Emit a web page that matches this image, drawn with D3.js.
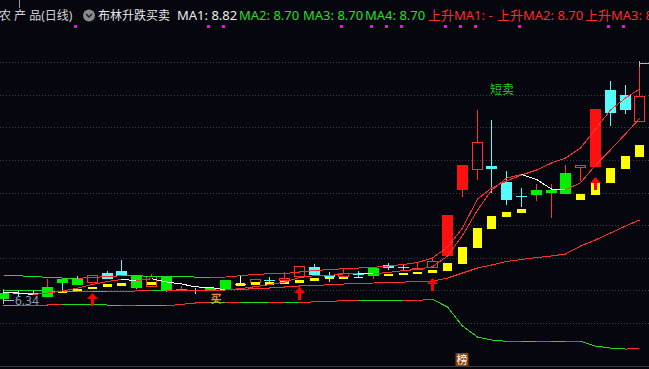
<!DOCTYPE html>
<html>
<head>
<meta charset="utf-8">
<script src="https://cdn.jsdelivr.net/npm/d3@7/dist/d3.min.js"></script>
<style>
  html, body { margin: 0; padding: 0; background: #06060f; overflow: hidden; }
  svg { display: block; }
  text { font-family: "Noto Sans", "Noto Sans CJK SC", sans-serif; }
</style>
</head>
<body>
<div id="chart"></div>
<script>
// 44 daily sessions, prices in yuan
var openP  = [6.45, 6.45, 6.45, 6.39, 6.66, 6.66, 6.60, 6.75, 6.78, 6.70, 6.54, 6.70, 6.48, 6.49, 6.52, 6.64, 6.58, 6.60, 6.64, 6.63, 6.69, 6.84, 6.72, 6.69, 6.73, 6.70, 6.87, 6.83, 6.79, 6.82, 7.00, 8.00, 8.30, 8.36, 8.12, 7.91, 7.92, 7.95, 7.94, 8.33, 8.34, 9.50, 9.43, 9.02];
var highP  = [6.49, 6.48, 6.48, 6.66, 6.66, 6.70, 6.72, 6.78, 6.94, 6.70, 6.73, 6.70, 6.55, 6.52, 6.52, 6.64, 6.70, 6.66, 6.69, 6.76, 6.85, 6.88, 6.76, 6.82, 6.78, 6.82, 6.90, 6.87, 6.91, 6.99, 7.62, 8.38, 9.20, 9.05, 8.28, 8.03, 8.09, 8.09, 8.37, 8.38, 9.22, 9.64, 9.58, 9.91];
var lowP   = [6.34, 6.40, 6.42, 6.39, 6.49, 6.57, 6.60, 6.66, 6.70, 6.51, 6.54, 6.46, 6.48, 6.43, 6.48, 6.51, 6.57, 6.60, 6.60, 6.63, 6.69, 6.72, 6.61, 6.69, 6.69, 6.66, 6.79, 6.78, 6.79, 6.82, 7.00, 7.89, 8.15, 7.95, 7.77, 7.74, 7.83, 7.58, 7.94, 8.13, 8.34, 8.96, 9.14, 9.02];
var closeP = [6.36, 6.44, 6.44, 6.54, 6.60, 6.57, 6.72, 6.66, 6.70, 6.52, 6.70, 6.48, 6.51, 6.48, 6.48, 6.51, 6.58, 6.66, 6.63, 6.67, 6.85, 6.72, 6.68, 6.74, 6.72, 6.82, 6.82, 6.82, 6.82, 6.93, 7.62, 8.38, 8.72, 8.31, 7.85, 7.90, 8.00, 8.00, 8.25, 8.38, 9.22, 9.16, 9.20, 9.41];

// indicator stick over the body: "R" strong, "G" weak, "" none
var stickSignal = ["G","","","G","G","G","","","","G","","G","G","","G","G","","","","","","","","","","G","","","","","R","R","","","","","G","G","G","","R","","",""];

// yellow support bars (top / bottom price)
var supportTop = [null,null,null,null,6.48,6.51,6.54,6.58,6.60,6.60,6.61,6.61,null,null,null,null,6.60,6.61,6.61,6.63,6.64,6.67,6.69,6.69,6.69,6.73,6.73,6.75,6.76,6.79,6.90,7.14,7.42,7.61,7.67,7.71,null,null,null,7.94,8.10,8.33,8.51,8.67];
var supportBot = [null,null,null,null,6.45,6.46,6.51,6.54,6.55,6.57,6.57,6.58,null,null,null,null,6.55,6.57,6.57,6.58,6.60,6.63,6.66,6.66,6.67,6.70,6.70,6.72,6.73,6.75,6.78,6.88,7.12,7.41,7.59,7.65,null,null,null,7.85,7.92,8.10,8.31,8.49];

// bollinger bands and short average
var upperBand = [6.717,6.705,6.694,6.682,6.671,6.667,6.679,6.694,6.705,6.703,6.700,6.697,6.692,6.686,6.682,6.686,6.706,6.727,6.735,6.739,6.762,6.784,6.799,6.811,6.822,6.833,6.852,6.875,6.905,6.973,7.138,7.424,7.861,8.027,8.132,8.223,8.298,8.403,8.479,8.629,8.915,9.201,9.382,9.518];
var midBand   = [6.491,6.486,6.482,6.476,6.468,6.468,6.471,6.468,6.473,6.476,6.479,6.476,6.482,6.483,6.486,6.491,6.498,6.513,6.521,6.536,6.551,6.561,6.569,6.581,6.589,6.596,6.604,6.611,6.614,6.626,6.671,6.747,6.822,6.867,6.920,6.950,6.980,7.003,7.033,7.153,7.244,7.349,7.454,7.545];
var lowerBand = [6.265,6.257,6.260,6.265,6.275,6.272,6.268,6.265,6.260,6.263,6.257,6.250,6.275,6.295,6.310,6.305,6.308,6.304,6.301,6.305,6.301,6.313,6.322,6.328,6.340,6.337,6.334,6.331,6.335,6.350,6.235,5.948,5.783,5.738,5.718,5.721,5.718,5.721,5.718,5.721,5.647,5.617,5.602,5.605];
var ma5       = [6.460,6.445,6.423,6.445,6.476,6.518,6.574,6.618,6.650,6.634,6.660,6.612,6.582,6.538,6.530,6.492,6.512,6.542,6.572,6.610,6.678,6.706,6.710,6.732,6.742,6.736,6.756,6.784,6.800,6.842,7.002,7.314,7.694,7.992,8.176,8.232,8.156,8.012,8.000,8.106,8.370,8.602,8.842,9.074];

// signals (session index)
var buyArrowIdx = [6, 20, 29, 40];
var buyTextIdx = [14];
var shortSellIdx = [33];
var rankIdx = [31];
var infoIdx = [5, 14, 15, 23, 25, 26, 27, 30, 31, 32, 35, 41, 42];

var headerLabels = ["农 产 品(日线)", "布林升跌买卖", "MA1: 8.82", "MA2: 8.70", "MA3: 8.70", "MA4: 8.70", "上升MA1: -", "上升MA2: 8.70", "上升MA3: 8.70"];

var W = 649, H = 369;
var RED = "#ff3030", FILLRED = "#ff1010", CYAN = "#54fcfc", GREEN = "#00f000",
    LGREEN = "#1edc1e", YELLOW = "#ffff00", WHITE = "#ffffff";

var svg = d3.select("#chart").append("svg").attr("width", W).attr("height", H);
svg.append("rect").attr("width", W).attr("height", H).attr("fill", "#06060f");

var n = closeP.length;
var x = d3.scaleLinear().domain([0, n - 1]).range([3.5, 3.5 + 14.8 * (n - 1)]);
var y = d3.scaleLinear().domain([5.5, 10.5]).range([355.8, 23.8]);
var bodyW = 11;

function left(i) { return Math.round(x(i) - bodyW / 2); }
function cx(i) { return left(i) + 5.5; }
function py(v) { return Math.round(y(v)); }

var days = d3.range(n).map(function (i) {
    return { i: i, o: openP[i], h: highP[i], l: lowP[i], c: closeP[i], stick: stickSignal[i] };
});

// top strip of the panel above
svg.append("line").attr("x1", 19.5).attr("x2", 19.5).attr("y1", 0).attr("y2", 8)
    .attr("stroke", "#9a9a9a");

// dotted grid
svg.append("g").selectAll("line")
    .data(d3.range(9))
    .enter().append("line")
    .attr("x1", 0).attr("x2", W)
    .attr("y1", function (d) { return Math.round(62 + d * 32.625) + 0.5; })
    .attr("y2", function (d) { return Math.round(62 + d * 32.625) + 0.5; })
    .attr("stroke", "#3e3e4a")
    .attr("stroke-dasharray", "1,2");

svg.append("line").attr("x1", 0).attr("x2", W).attr("y1", 366.5).attr("y2", 366.5)
    .attr("stroke", "#3a3a3a");

// base candles
var kg = svg.append("g").attr("shape-rendering", "crispEdges");
function colorOf(d) { return d.c > d.o ? RED : (d.c < d.o ? CYAN : WHITE); }
function bodyTop(d) { return py(Math.max(d.o, d.c)); }
function bodyH(d) { return Math.max(1, py(Math.min(d.o, d.c)) - bodyTop(d)); }

kg.selectAll(".wickUp")
    .data(days)
    .enter().append("line")
    .attr("x1", function (d) { return cx(d.i); })
    .attr("x2", function (d) { return cx(d.i); })
    .attr("y1", function (d) { return py(d.h); })
    .attr("y2", function (d) { return d.c > d.o ? bodyTop(d) : py(d.l); })
    .attr("stroke", colorOf);

kg.selectAll(".wickDn")
    .data(days.filter(function (d) { return d.c > d.o; }))
    .enter().append("line")
    .attr("x1", function (d) { return cx(d.i); })
    .attr("x2", function (d) { return cx(d.i); })
    .attr("y1", function (d) { return bodyTop(d) + bodyH(d); })
    .attr("y2", function (d) { return py(d.l); })
    .attr("stroke", RED);

kg.selectAll(".body")
    .data(days)
    .enter().append("rect")
    .attr("x", function (d) { return d.c > d.o ? left(d.i) + 0.5 : left(d.i); })
    .attr("y", function (d) { return d.c > d.o ? bodyTop(d) + 0.5 : bodyTop(d); })
    .attr("width", function (d) { return d.c > d.o ? bodyW - 1 : bodyW; })
    .attr("height", function (d) { return d.c > d.o ? Math.max(0, bodyH(d) - 1) : bodyH(d); })
    .attr("fill", function (d) { return d.c > d.o ? "none" : colorOf(d); })
    .attr("stroke", function (d) { return d.c > d.o ? RED : "none"; });

// yellow support bars
kg.selectAll(".support")
    .data(days.filter(function (d) { return supportTop[d.i] != null; }))
    .enter().append("rect")
    .attr("x", function (d) { return left(d.i) + 1; })
    .attr("y", function (d) { return py(supportTop[d.i]); })
    .attr("width", bodyW - 2)
    .attr("height", function (d) { return Math.max(1, py(supportBot[d.i]) - py(supportTop[d.i])); })
    .attr("fill", YELLOW);

// indicator sticks
kg.selectAll(".stick")
    .data(days.filter(function (d) { return d.stick !== ""; }))
    .enter().append("rect")
    .attr("x", function (d) { return left(d.i); })
    .attr("y", bodyTop)
    .attr("width", bodyW)
    .attr("height", bodyH)
    .attr("fill", function (d) { return d.stick === "R" ? FILLRED : GREEN; });

// lines, coloured per segment
var lg = svg.append("g").attr("shape-rendering", "crispEdges");
function drawLine(values, upColor, downColor) {
    lg.selectAll(null)
        .data(d3.range(1, values.length))
        .enter().append("line")
        .attr("x1", function (i) { return cx(i - 1); })
        .attr("y1", function (i) { return y(values[i - 1]); })
        .attr("x2", function (i) { return cx(i); })
        .attr("y2", function (i) { return y(values[i]); })
        .attr("stroke", function (i) { return values[i] > values[i - 1] ? upColor : downColor; })
        .attr("stroke-width", 1);
}
drawLine(lowerBand, RED, LGREEN);
drawLine(midBand, RED, LGREEN);
drawLine(upperBand, RED, LGREEN);
drawLine(ma5, RED, WHITE);

// buy arrows
svg.append("g").selectAll("path")
    .data(buyArrowIdx)
    .enter().append("path")
    .attr("d", function (i) {
        var c = cx(i), t = py(lowP[i]) + 10;
        return "M" + c + "," + t + "L" + (c + 5.5) + "," + (t + 6) + "L" + (c + 1.5) + "," + (t + 6) +
            "L" + (c + 1.5) + "," + (t + 13) + "L" + (c - 1.5) + "," + (t + 13) + "L" + (c - 1.5) + "," + (t + 6) +
            "L" + (c - 5.5) + "," + (t + 6) + "Z";
    })
    .attr("fill", "#ff0000");

svg.append("g").selectAll("text")
    .data(buyTextIdx)
    .enter().append("text")
    .attr("x", function (i) { return cx(i); })
    .attr("y", function (i) { return py(lowP[i]) + 12; })
    .style("font-size", "11px")
    .style("font-weight", "bold")
    .attr("fill", "#e8962e")
    .text("买");

svg.append("g").selectAll("text")
    .data(shortSellIdx)
    .enter().append("text")
    .attr("x", function (i) { return cx(i) - 1.5; })
    .attr("y", function (i) { return py(highP[i]) - 26; })
    .style("font-size", "12px")
    .attr("fill", "#22cc22")
    .text("短卖");

var rank = svg.append("g").selectAll("g")
    .data(rankIdx)
    .enter().append("g");
rank.append("rect")
    .attr("x", function (i) { return cx(i) - 7; })
    .attr("y", 353).attr("width", 13).attr("height", 13)
    .attr("fill", "#84420f");
rank.append("text")
    .attr("x", function (i) { return cx(i) - 0.5; })
    .attr("y", 364)
    .attr("text-anchor", "middle")
    .style("font-size", "11px")
    .attr("fill", "#ffffff")
    .text("榜");

// info markers under the header
svg.append("g").attr("shape-rendering", "crispEdges").selectAll("rect")
    .data(infoIdx)
    .enter().append("rect")
    .attr("x", function (i) { return cx(i) - 3.5; })
    .attr("y", 25).attr("width", 3).attr("height", 3)
    .attr("fill", "#ff00ff");

// lowest / highest price marks
var lowIdx = d3.minIndex(lowP), highIdx = d3.maxIndex(highP);
var fmt = d3.format(".2f");
[{ i: lowIdx, v: lowP[lowIdx] }, { i: highIdx, v: highP[highIdx] }].forEach(function (m) {
    var c = cx(m.i), yy = py(m.v);
    svg.append("line").attr("x1", c - 0.5).attr("x2", c - 0.5).attr("y1", yy - 2).attr("y2", yy + 4)
        .attr("stroke", "#b0b8c4").attr("shape-rendering", "crispEdges");
    svg.append("line").attr("x1", c - 0.5).attr("x2", c + 10).attr("y1", yy + 0.5).attr("y2", yy + 0.5)
        .attr("stroke", "#b0b8c4").attr("shape-rendering", "crispEdges");
    svg.append("text").attr("x", c + 11.5).attr("y", yy + 5)
        .style("font-size", "12px").attr("fill", "#8c9aae")
        .text(fmt(m.v));
});

// header
var headerX = [-1, 98, 177, 239, 303, 365, 428, 497, 585];
var headerColor = ["#d2d2d2", "#e8e8e8", "#ececec", "#22e022", "#22e022", "#22e022", "#ff2a2a", "#ff2a2a", "#ff2a2a"];
var headerSize = [12, 12, 13, 13, 13, 13, 13, 13, 13];
svg.append("g").selectAll("text")
    .data(headerLabels)
    .enter().append("text")
    .attr("x", function (d, i) { return headerX[i]; })
    .attr("y", 20)
    .style("font-size", function (d, i) { return headerSize[i] + "px"; })
    .attr("fill", function (d, i) { return headerColor[i]; })
    .text(function (d) { return d; });

svg.append("circle").attr("cx", 89).attr("cy", 15.5).attr("r", 6).attr("fill", "#8a8a8a");
svg.append("path").attr("d", "M86,14L89,17L92,14").attr("fill", "none")
    .attr("stroke", "#202020").attr("stroke-width", 1.5);
</script>
</body>
</html>
